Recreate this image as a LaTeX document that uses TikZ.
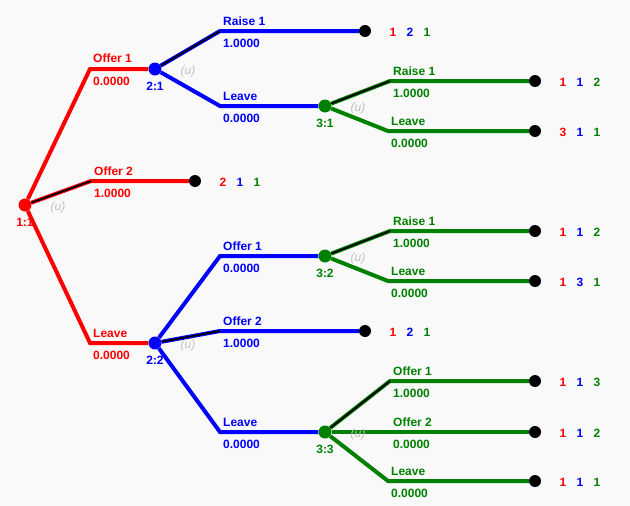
\documentclass[tikz,border=0pt]{standalone}
\usepackage{fontspec}
\setmainfont{Liberation Sans}
\definecolor{pred}{RGB}{255,0,0}
\definecolor{pblue}{RGB}{0,0,255}
\definecolor{pgreen}{RGB}{0,128,0}
\definecolor{ugray}{RGB}{192,192,192}
\definecolor{bgcol}{RGB}{249,249,249}

\begin{document}
\begin{tikzpicture}[x=1pt, y=-1pt,
  txt/.style={font=\fontsize{12}{14}\selectfont\bfseries, inner sep=0pt},
  move/.style={circle, fill=#1, minimum size=13pt, inner sep=0pt},
  term/.style={circle, fill=black, minimum size=12pt, inner sep=0pt},
  branch/.style={draw=#1, line width=4pt},
  chosen/.style={draw=black, line width=1.8pt},
  act/.style={txt, text=#1, anchor=base west, xshift=3pt, yshift=6pt},
  prob/.style={txt, text=#1, anchor=base west, xshift=3pt, yshift=-16pt},
  nlabel/.style={txt, text=#1, anchor=base, yshift=-21pt},
  unif/.style={font=\fontsize{12}{14}\selectfont\itshape, text=ugray, inner sep=0pt, xshift=33pt, yshift=-2pt}]

% Background and page size
\fill[bgcol] (0,0) rectangle (630,506);
\useasboundingbox (0,0) rectangle (630,506);

% Decision nodes
\node[move=pred] (n11) at (25,205) {};
\node[move=pblue] (n21) at (155,69) {};
\node[move=pblue] (n22) at (155,343) {};
\node[move=pgreen] (n31) at (325,106) {};
\node[move=pgreen] (n32) at (325,256) {};
\node[move=pgreen] (n33) at (325,432) {};

% Terminal nodes
\node[term] (t1) at (195,181) {};
\node[term] (t2) at (365,31) {};
\node[term] (t3) at (535,81) {};
\node[term] (t4) at (535,131) {};
\node[term] (t5) at (365,331) {};
\node[term] (t6) at (535,231) {};
\node[term] (t7) at (535,281) {};
\node[term] (t8) at (535,381) {};
\node[term] (t9) at (535,432) {};
\node[term] (t10) at (535,481) {};

% Knees of the branches
\coordinate (k11a) at (90,69);
\coordinate (k11b) at (91,181);
\coordinate (k11c) at (90,343);
\coordinate (k21a) at (220,31);
\coordinate (k21b) at (220,106);
\coordinate (k31a) at (390,81);
\coordinate (k31b) at (388,131);
\coordinate (k22a) at (220,256);
\coordinate (k22b) at (220,331);
\coordinate (k22c) at (220,432);
\coordinate (k32a) at (390,231);
\coordinate (k32b) at (388,281);
\coordinate (k33a) at (390,381);
\coordinate (k33b) at (390,432);
\coordinate (k33c) at (388,481);

% Player 1 branches
\draw[branch=pred] (n11) -- (k11a) -- (n21);
\draw[branch=pred] (n11) -- (k11b) -- (t1);
\draw[branch=pred] (n11) -- (k11c) -- (n22);
% Player 2 branches
\draw[branch=pblue] (n21) -- (k21a) -- (t2);
\draw[branch=pblue] (n21) -- (k21b) -- (n31);
\draw[branch=pblue] (n22) -- (k22a) -- (n32);
\draw[branch=pblue] (n22) -- (k22b) -- (t5);
\draw[branch=pblue] (n22) -- (k22c) -- (n33);
% Player 3 branches
\draw[branch=pgreen] (n31) -- (k31a) -- (t3);
\draw[branch=pgreen] (n31) -- (k31b) -- (t4);
\draw[branch=pgreen] (n32) -- (k32a) -- (t6);
\draw[branch=pgreen] (n32) -- (k32b) -- (t7);
\draw[branch=pgreen] (n33) -- (k33a) -- (t8);
\draw[branch=pgreen] (n33) -- (k33b) -- (t9);
\draw[branch=pgreen] (n33) -- (k33c) -- (t10);

% Chosen actions
\draw[chosen] (n11) -- (k11b);
\draw[chosen] (n21) -- (k21a);
\draw[chosen] (n31) -- (k31a);
\draw[chosen] (n22) -- (k22b);
\draw[chosen] (n32) -- (k32a);
\draw[chosen] (n33) -- (k33a);

% Node labels
\node[nlabel=pred] (l11) at (n11) {1:1};
\node[nlabel=pblue] (l21) at (n21) {2:1};
\node[nlabel=pblue] (l22) at (n22) {2:2};
\node[nlabel=pgreen] (l31) at (n31) {3:1};
\node[nlabel=pgreen] (l32) at (n32) {3:2};
\node[nlabel=pgreen] (l33) at (n33) {3:3};
\node[unif] (u11) at (n11) {(u)};
\node[unif] (u21) at (n21) {(u)};
\node[unif] (u22) at (n22) {(u)};
\node[unif] (u31) at (n31) {(u)};
\node[unif] (u32) at (n32) {(u)};
\node[unif] (u33) at (n33) {(u)};

% Action labels and probabilities
\node[act=pred] (a11a) at (k11a) {Offer 1};
\node[prob=pred] (p11a) at (k11a) {0.0000};
\node[act=pred] (a11b) at (k11b) {Offer 2};
\node[prob=pred] (p11b) at (k11b) {1.0000};
\node[act=pred] (a11c) at (k11c) {Leave};
\node[prob=pred] (p11c) at (k11c) {0.0000};
\node[act=pblue] (a21a) at (k21a) {Raise 1};
\node[prob=pblue] (p21a) at (k21a) {1.0000};
\node[act=pblue] (a21b) at (k21b) {Leave};
\node[prob=pblue] (p21b) at (k21b) {0.0000};
\node[act=pblue] (a22a) at (k22a) {Offer 1};
\node[prob=pblue] (p22a) at (k22a) {0.0000};
\node[act=pblue] (a22b) at (k22b) {Offer 2};
\node[prob=pblue] (p22b) at (k22b) {1.0000};
\node[act=pblue] (a22c) at (k22c) {Leave};
\node[prob=pblue] (p22c) at (k22c) {0.0000};
\node[act=pgreen] (a31a) at (k31a) {Raise 1};
\node[prob=pgreen] (p31a) at (k31a) {1.0000};
\node[act=pgreen] (a31b) at (k31b) {Leave};
\node[prob=pgreen] (p31b) at (k31b) {0.0000};
\node[act=pgreen] (a32a) at (k32a) {Raise 1};
\node[prob=pgreen] (p32a) at (k32a) {1.0000};
\node[act=pgreen] (a32b) at (k32b) {Leave};
\node[prob=pgreen] (p32b) at (k32b) {0.0000};
\node[act=pgreen] (a33a) at (k33a) {Offer 1};
\node[prob=pgreen] (p33a) at (k33a) {1.0000};
\node[act=pgreen] (a33b) at (k33b) {Offer 2};
\node[prob=pgreen] (p33b) at (k33b) {0.0000};
\node[act=pgreen] (a33c) at (k33c) {Leave};
\node[prob=pgreen] (p33c) at (k33c) {0.0000};

% Payoffs
\node[txt, text=pred] (v1a) at ([xshift=28pt,yshift=-1pt]t1) {2};
\node[txt, text=pblue] (v1b) at ([xshift=45pt,yshift=-1pt]t1) {1};
\node[txt, text=pgreen] (v1c) at ([xshift=62pt,yshift=-1pt]t1) {1};
\node[txt, text=pred] (v2a) at ([xshift=28pt,yshift=-1pt]t2) {1};
\node[txt, text=pblue] (v2b) at ([xshift=45pt,yshift=-1pt]t2) {2};
\node[txt, text=pgreen] (v2c) at ([xshift=62pt,yshift=-1pt]t2) {1};
\node[txt, text=pred] (v3a) at ([xshift=28pt,yshift=-1pt]t3) {1};
\node[txt, text=pblue] (v3b) at ([xshift=45pt,yshift=-1pt]t3) {1};
\node[txt, text=pgreen] (v3c) at ([xshift=62pt,yshift=-1pt]t3) {2};
\node[txt, text=pred] (v4a) at ([xshift=28pt,yshift=-1pt]t4) {3};
\node[txt, text=pblue] (v4b) at ([xshift=45pt,yshift=-1pt]t4) {1};
\node[txt, text=pgreen] (v4c) at ([xshift=62pt,yshift=-1pt]t4) {1};
\node[txt, text=pred] (v5a) at ([xshift=28pt,yshift=-1pt]t5) {1};
\node[txt, text=pblue] (v5b) at ([xshift=45pt,yshift=-1pt]t5) {2};
\node[txt, text=pgreen] (v5c) at ([xshift=62pt,yshift=-1pt]t5) {1};
\node[txt, text=pred] (v6a) at ([xshift=28pt,yshift=-1pt]t6) {1};
\node[txt, text=pblue] (v6b) at ([xshift=45pt,yshift=-1pt]t6) {1};
\node[txt, text=pgreen] (v6c) at ([xshift=62pt,yshift=-1pt]t6) {2};
\node[txt, text=pred] (v7a) at ([xshift=28pt,yshift=-1pt]t7) {1};
\node[txt, text=pblue] (v7b) at ([xshift=45pt,yshift=-1pt]t7) {3};
\node[txt, text=pgreen] (v7c) at ([xshift=62pt,yshift=-1pt]t7) {1};
\node[txt, text=pred] (v8a) at ([xshift=28pt,yshift=-1pt]t8) {1};
\node[txt, text=pblue] (v8b) at ([xshift=45pt,yshift=-1pt]t8) {1};
\node[txt, text=pgreen] (v8c) at ([xshift=62pt,yshift=-1pt]t8) {3};
\node[txt, text=pred] (v9a) at ([xshift=28pt,yshift=-1pt]t9) {1};
\node[txt, text=pblue] (v9b) at ([xshift=45pt,yshift=-1pt]t9) {1};
\node[txt, text=pgreen] (v9c) at ([xshift=62pt,yshift=-1pt]t9) {2};
\node[txt, text=pred] (v10a) at ([xshift=28pt,yshift=-1pt]t10) {1};
\node[txt, text=pblue] (v10b) at ([xshift=45pt,yshift=-1pt]t10) {1};
\node[txt, text=pgreen] (v10c) at ([xshift=62pt,yshift=-1pt]t10) {1};
\end{tikzpicture}
\end{document}
